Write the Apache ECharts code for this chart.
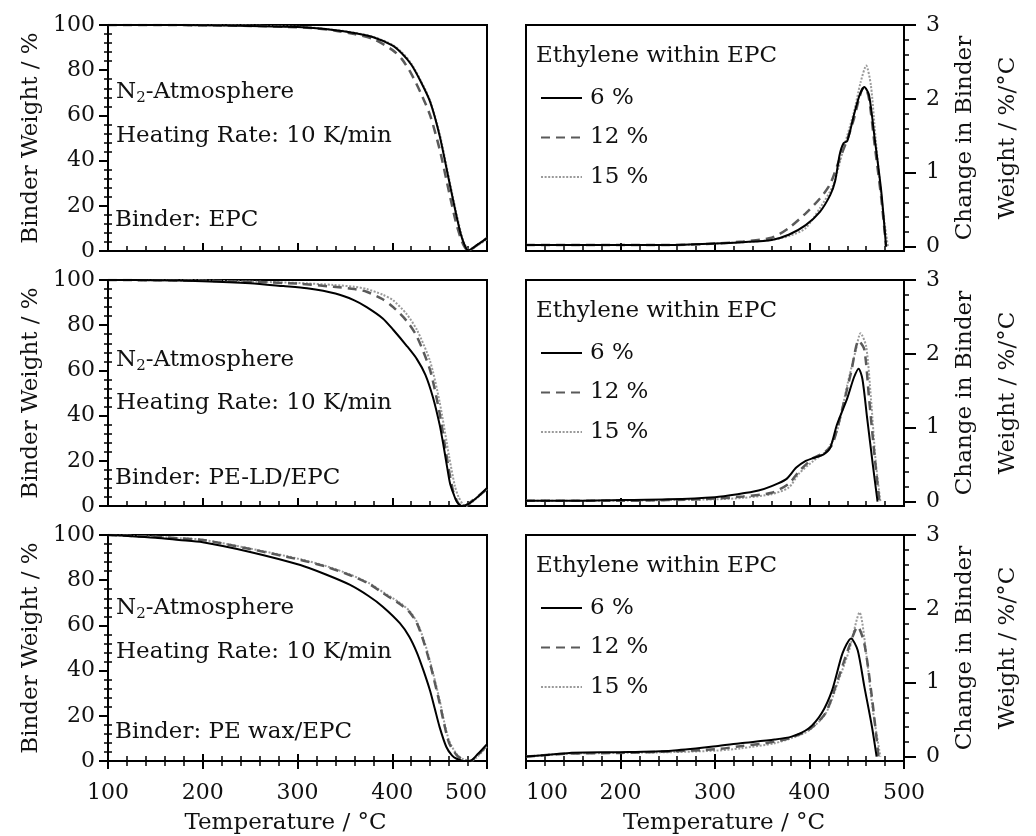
<!DOCTYPE html>
<html>
<head>
<meta charset="utf-8">
<script src="https://cdn.jsdelivr.net/npm/echarts@6/dist/echarts.min.js"></script>
<style>
  html, body { margin: 0; padding: 0; background: #fff; }
  #chart { width: 1036px; height: 836px; }
</style>
</head>
<body>
<div id="chart"></div>
<script>
// tick labels
const tempTicks = [100, 200, 300, 400, 500]
const weightTicks = [0, 20, 40, 60, 80, 100]
const rateTicks = [0, 1, 2, 3]
const rateMinorTicks = [0.2, 0.4, 0.6, 0.8, 1.2, 1.4, 1.6, 1.8, 2.2, 2.4, 2.6, 2.8]
const seriesNames = ['6 %', '12 %', '15 %']
const binderNames = ['Binder: EPC', 'Binder: PE-LD/EPC', 'Binder: PE wax/EPC']

// binder weight (%) vs temperature (°C), left column
const tgEpc6 = [[100,100],[150,100],[200,99.9],[250,99.6],[300,99.1],[320,98.6],[340,97.7],[360,96.5],[380,94.6],[400,91],[410,87.5],[420,82.5],[430,75],[440,66],[450,51],[460,31],[467,17],[472,8],[476,3],[480,0.3],[490,2.8],[500,5.7]]
const tgEpc12 = [[100,100],[150,100],[200,99.9],[250,99.6],[300,99],[320,98.5],[340,97.5],[360,96],[380,93.8],[400,89],[410,85],[420,78.5],[430,70],[440,60],[450,45],[460,26],[467,13],[472,6],[476,2],[480,0.2],[490,2.8],[500,5.7]]
const tgEpc15 = [[100,100],[150,100],[200,99.9],[250,99.7],[300,99.2],[320,98.7],[340,97.8],[360,96.6],[380,94.8],[400,91.3],[410,88],[420,83],[430,75.5],[440,66.5],[450,52],[460,32],[467,18],[472,9],[476,3.5],[481,0.3],[490,2.5],[500,5.2]]

const tgPeld6 = [[100,100],[150,99.9],[200,99.5],[250,98.6],[285,97.3],[310,96.3],[340,94],[360,91],[373,88],[390,83],[401,78],[415,71],[426,65],[435,58],[443,48],[450,36],[454,27],[458,17],[461,10],[465,5],[468,2],[473,0],[480,0.8],[490,4],[500,8]]
const tgPeld12 = [[100,100],[150,99.9],[200,99.7],[250,99.2],[300,98.4],[338,97],[360,96],[373,94.8],[390,91.5],[401,88],[415,82],[426,75],[440,60],[450,41],[457,23],[464,7],[470,1],[476,0],[485,2.5],[500,7.5]]
const tgPeld15 = [[100,100],[150,99.9],[200,99.7],[250,99.3],[300,98.7],[338,97.8],[360,97],[373,96],[390,93.5],[401,91],[415,85],[426,78],[440,64],[450,46],[460,22],[466,9],[470,4],[475,0.5],[478,0],[488,3],[500,7.5]]

const tgWax6 = [[100,100],[125,99.5],[150,98.8],[175,97.8],[200,96.8],[250,92.5],[303,86.7],[330,82.5],[355,78],[375,73],[390,68.3],[408,61],[418,55],[426,48],[433,40],[440,31],[445,23],[450,15],[457,6.3],[463,2.5],[468,1],[475,0],[482,0],[490,3],[500,7.5]]
const tgWax12 = [[100,100],[125,99.6],[150,99.2],[175,98.5],[200,97.8],[250,93.8],[303,89],[330,86],[355,82.3],[375,78.5],[390,74.3],[408,69.5],[418,66],[426,61],[433,53],[440,43],[450,25.7],[455,16],[460,8],[468,2.6],[475,0.5],[482,0],[490,2.5],[500,7]]
const tgWax15 = [[100,100],[125,99.6],[150,99.2],[175,98.6],[200,97.9],[250,94],[303,89.3],[330,86.3],[355,82.6],[375,78.8],[390,74.8],[408,70],[418,66.5],[426,61.5],[433,54],[440,44],[450,27],[455,17],[460,9],[468,3],[475,0.8],[483,0],[490,2],[500,6.5]]

// change in binder weight (%/°C) vs temperature (°C), right column
const dtgEpc6 = [[100,0.02],[150,0.02],[200,0.02],[250,0.02],[300,0.04],[330,0.06],[360,0.09],[378,0.16],[396,0.29],[411,0.47],[422,0.7],[427,0.88],[432,1.25],[436,1.4],[440,1.43],[447,1.78],[453,2.05],[458,2.16],[463,2.05],[469,1.46],[476,0.74],[481,0]]
const dtgEpc12 = [[100,0.02],[150,0.02],[200,0.02],[250,0.02],[300,0.04],[330,0.07],[360,0.12],[378,0.25],[396,0.45],[411,0.65],[422,0.85],[432,1.19],[440,1.45],[447,1.73],[452,1.98],[456,2.14],[459,2.15],[463,2.0],[469,1.37],[476,0.65],[481,0]]
const dtgEpc15 = [[100,0.02],[150,0.02],[200,0.02],[250,0.02],[300,0.04],[330,0.06],[360,0.09],[380,0.15],[396,0.25],[411,0.52],[425,0.83],[436,1.33],[447,1.82],[454,2.22],[460,2.45],[465,2.18],[470,1.46],[477,0.56],[483,0]]

const dtgPeld6 = [[100,0.01],[150,0.01],[200,0.02],[250,0.03],[300,0.06],[324,0.1],[346,0.15],[360,0.21],[375,0.3],[386,0.46],[396,0.55],[404,0.59],[415,0.64],[422,0.73],[429,1.04],[440,1.4],[447,1.68],[452,1.8],[456,1.66],[461,1.13],[467,0.5],[472,0]]
const dtgPeld12 = [[100,0.01],[150,0.01],[200,0.01],[250,0.02],[300,0.04],[330,0.07],[360,0.12],[378,0.24],[389,0.41],[404,0.59],[415,0.66],[424,0.77],[433,1.17],[444,1.75],[452,2.18],[458,2.06],[463,1.4],[469,0.6],[474,0]]
const dtgPeld15 = [[100,0.01],[150,0.01],[200,0.01],[250,0.02],[300,0.03],[330,0.05],[360,0.1],[378,0.19],[389,0.38],[404,0.55],[418,0.69],[429,0.95],[440,1.58],[449,2.05],[454,2.28],[460,2.1],[465,1.4],[470,0.55],[475,0]]

const dtgWax6 = [[100,0],[121,0.02],[146,0.05],[200,0.06],[254,0.08],[301,0.14],[327,0.18],[363,0.23],[381,0.27],[399,0.38],[413,0.59],[424,0.9],[435,1.4],[444,1.6],[451,1.44],[458,0.95],[466,0.41],[471,0]]
const dtgWax12 = [[100,0],[121,0.02],[146,0.04],[200,0.05],[254,0.07],[301,0.1],[327,0.14],[363,0.2],[381,0.26],[399,0.36],[417,0.59],[431,1.08],[442,1.49],[451,1.76],[458,1.53],[466,0.81],[473,0]]
const dtgWax15 = [[100,0],[121,0.02],[146,0.04],[200,0.05],[254,0.06],[301,0.08],[327,0.11],[363,0.18],[381,0.25],[399,0.35],[417,0.58],[431,1.04],[442,1.44],[453,1.95],[460,1.4],[467,0.63],[475,0]]

const tgData = [[tgEpc6, tgEpc12, tgEpc15], [tgPeld6, tgPeld12, tgPeld15], [tgWax6, tgWax12, tgWax15]]
const dtgData = [[dtgEpc6, dtgEpc12, dtgEpc15], [dtgPeld6, dtgPeld12, dtgPeld15], [dtgWax6, dtgWax12, dtgWax15]]

const FONT = 'DejaVu Serif'
const rowTops = [25, 280, 535]
const rowHeight = 226
const lineStyles = [
  { color: '#000', width: 2, type: 'solid' },
  { color: '#5a5a5a', width: 2.5, type: [9, 6] },
  { color: '#9a9a9a', width: 2, type: [2, 1.6] }
]
// y offsets (from top of panel) for the annotations in the left column
const noteOffsets = [[67, 111, 195], [80, 123, 198], [73, 117, 197]]

const chart = echarts.init(document.getElementById('chart'), null, { renderer: 'canvas' })

const grids = []
const xAxes = []
const yAxes = []
const series = []
const legends = []
const graphics = []

const labelStyle = { fontFamily: FONT, fontSize: 22, color: '#111' }
const blackLine = { color: '#000', width: 2 }

function addGrid(left, top, width) {
  grids.push({
    left: left, top: top, width: width, height: rowHeight,
    outerBoundsMode: 'none', containLabel: false,
    show: true, borderColor: '#000', borderWidth: 2, backgroundColor: 'transparent'
  })
  return grids.length - 1
}

function addXAxis(grid, isBottom, alignMin) {
  const idx = xAxes.length
  xAxes.push({
    gridIndex: grid, type: 'value', min: 100, max: 500, interval: 100,
    name: isBottom ? 'Temperature / °C' : '',
    nameLocation: 'middle', nameGap: 49,
    nameTextStyle: {
      fontFamily: FONT, fontSize: 23, color: '#111', lineHeight: 26,
      padding: alignMin === 'left' ? [0, 0, 0, 18] : [0, 24, 0, 0]
    },
    axisLine: { onZero: false, lineStyle: blackLine },
    axisTick: { inside: !isBottom, length: 8, lineStyle: blackLine },
    minorTick: { show: true, splitNumber: 5, length: 5, lineStyle: { color: '#000', width: 1.5 } },
    axisLabel: Object.assign({ show: isBottom, margin: 21, alignMinLabel: alignMin, alignMaxLabel: alignMin === 'left' ? 'center' : 'right' }, labelStyle),
    splitLine: { show: false }
  })
  if (isBottom) {
    // second copy so the ticks cross the bottom axis line
    xAxes.push({
      gridIndex: grid, type: 'value', min: 100, max: 500, interval: 100, position: 'bottom',
      axisLine: { show: false, onZero: false },
      axisTick: { inside: true, length: 7, lineStyle: blackLine },
      minorTick: { show: true, splitNumber: 5, length: 5, lineStyle: { color: '#000', width: 1.5 } },
      axisLabel: { show: false },
      splitLine: { show: false }
    })
  }
  return idx
}

rowTops.forEach((top, r) => {
  const isBottom = r === 2
  // left column: binder weight
  const gL = addGrid(108, top, 379)
  const xL = addXAxis(gL, isBottom, 'center')
  const yL = yAxes.length
  yAxes.push({
    gridIndex: gL, type: 'value', position: 'left', min: 0, max: 100, interval: 20,
    name: 'Binder Weight / %', nameLocation: 'middle', nameRotate: 90, nameGap: 65,
    nameTextStyle: { fontFamily: FONT, fontSize: 23, color: '#111' },
    axisLine: { onZero: false, lineStyle: blackLine },
    axisTick: { length: 9, lineStyle: blackLine },
    minorTick: { show: true, splitNumber: 5, length: 4, lineStyle: { color: '#000', width: 1.5 } },
    axisLabel: Object.assign({ margin: 13 }, labelStyle),
    splitLine: { show: false }
  })
  yAxes.push({
    gridIndex: gL, type: 'value', position: 'left', min: 0, max: 100, interval: 20,
    axisLine: { show: false, onZero: false },
    axisTick: { show: false, inside: true },
    minorTick: { show: true, splitNumber: 5, length: 4, lineStyle: { color: '#000', width: 1.5 } },
    axisLabel: { show: false },
    splitLine: { show: false }
  })
  tgData[r].forEach((d, k) => {
    series.push({
      name: seriesNames[k], type: 'line', xAxisIndex: xL, yAxisIndex: yL,
      data: d, symbol: 'none', smooth: 0.25, lineStyle: lineStyles[k],
      itemStyle: { color: lineStyles[k].color }, z: 3 - k
    })
  })

  // right column: rate of change
  const gR = addGrid(526, top, 378)
  const xR = addXAxis(gR, isBottom, 'left')
  const yR = yAxes.length
  yAxes.push({
    gridIndex: gR, type: 'value', position: 'right', min: -0.06, max: 3,
    name: 'Change in Binder\nWeight / %/°C', nameLocation: 'middle', nameRotate: 90, nameGap: 36,
    nameTextStyle: { fontFamily: FONT, fontSize: 23, color: '#111', lineHeight: 43 },
    axisLine: { onZero: false, lineStyle: blackLine },
    axisTick: { length: 12, customValues: rateTicks, lineStyle: blackLine },
    axisLabel: Object.assign({ margin: 22, customValues: rateTicks }, labelStyle),
    splitLine: { show: false }
  })
  yAxes.push({
    gridIndex: gR, type: 'value', position: 'right', min: -0.06, max: 3,
    axisLine: { show: false, onZero: false },
    axisTick: { length: 5, customValues: rateMinorTicks, lineStyle: { color: '#000', width: 1.5 } },
    axisLabel: { show: false },
    splitLine: { show: false }
  })
  dtgData[r].forEach((d, k) => {
    series.push({
      name: seriesNames[k], type: 'line', xAxisIndex: xR, yAxisIndex: yR,
      data: d, symbol: 'none', smooth: 0.25, lineStyle: lineStyles[k],
      itemStyle: { color: lineStyles[k].color }, z: 3 - k
    })
  })

  legends.push({
    data: seriesNames, orient: 'vertical', left: 535, top: top + 56,
    itemWidth: 41, itemHeight: 14, itemGap: 15.5, selectedMode: false,
    itemStyle: { opacity: 0 },
    textStyle: { fontFamily: FONT, fontSize: 23, color: '#111', lineHeight: 24, padding: [0, 0, 0, 3] }
  })

  // annotations
  const off = noteOffsets[r]
  const textStyle = { fontFamily: FONT, fontSize: 23, fill: '#111', verticalAlign: 'middle' }
  graphics.push({
    type: 'text', style: Object.assign({
      x: 116, y: top + off[0], text: '{a|N}{s|2}{a|-Atmosphere}',
      rich: { a: { fontFamily: FONT, fontSize: 23, fill: '#111' }, s: { fontFamily: FONT, fontSize: 15, fill: '#111', padding: [13, 0, 0, 0] } }
    }, textStyle)
  })
  graphics.push({ type: 'text', style: Object.assign({ x: 116, y: top + off[1], text: 'Heating Rate: 10 K/min' }, textStyle) })
  graphics.push({ type: 'text', style: Object.assign({ x: 115, y: top + off[2], text: binderNames[r] }, textStyle) })
  graphics.push({ type: 'text', style: Object.assign({ x: 536, y: top + 31, text: 'Ethylene within EPC' }, textStyle) })
})

chart.setOption({
  animation: false,
  backgroundColor: '#fff',
  grid: grids,
  xAxis: xAxes,
  yAxis: yAxes,
  legend: legends,
  graphic: graphics,
  series: series
})
</script>
</body>
</html>
